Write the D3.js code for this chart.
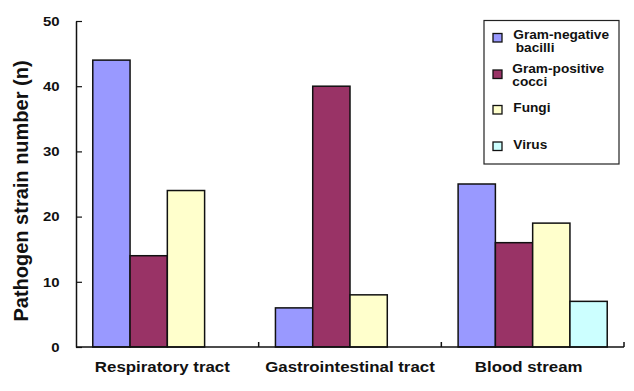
<!DOCTYPE html>
<html>
<head>
<meta charset="utf-8">
<script src="https://cdn.jsdelivr.net/npm/d3@7"></script>
<style>
  html, body { margin: 0; padding: 0; background: #fff; }
  svg { display: block; }
  text { font-family: "Liberation Sans", Arial, sans-serif; font-weight: bold; fill: #111; }
</style>
</head>
<body>
<svg id="chart" width="634" height="391"></svg>
<script>
// ---- data ----
const categories = ["Respiratory tract", "Gastrointestinal tract", "Blood stream"];
const seriesNames = ["Gram-negative bacilli", "Gram-positive cocci", "Fungi", "Virus"];
const legendLines = [["Gram-negative", "bacilli"], ["Gram-positive", "cocci"], ["Fungi"], ["Virus"]];
const gramNegative = [44, 6, 25];
const gramPositive = [14, 40, 16];
const fungi = [24, 8, 19];
const virus = [0, 0, 7];
const yTicks = [0, 10, 20, 30, 40, 50];
const colors = ["#9999FF", "#993366", "#FFFFCC", "#CCFFFF"];
const yTitle = "Pathogen strain number (n)";

const seriesValues = [gramNegative, gramPositive, fungi, virus];

// ---- layout ----
const svg = d3.select("#chart");
const mLeft = 76, mRight = 624, mTop = 21, mBottom = 347;

const x0 = d3.scaleBand().domain(categories).range([mLeft, mRight]).padding(0);
const x1 = d3.scaleBand().domain(seriesNames).range([0, x0.bandwidth()])
  .paddingInner(0).paddingOuter(0.45);
const y = d3.scaleLinear().domain([0, 50]).range([mBottom, mTop]);
const color = d3.scaleOrdinal().domain(seriesNames).range(colors);

function stretchText(sel, x, yy, str, size, sx, anchor) {
  return sel.append("text")
    .attr("transform", `translate(${x},${yy}) scale(${sx},1)`)
    .attr("text-anchor", anchor || "start")
    .style("font-size", size + "px")
    .text(str);
}

// bars
const flat = [];
categories.forEach((c, i) => {
  seriesNames.forEach((s, j) => {
    flat.push({ cat: c, series: s, value: seriesValues[j][i] });
  });
});
svg.append("g").selectAll("rect")
  .data(flat.filter(d => d.value > 0))
  .join("rect")
  .attr("x", d => x0(d.cat) + x1(d.series))
  .attr("y", d => y(d.value))
  .attr("width", x1.bandwidth())
  .attr("height", d => y(0) - y(d.value))
  .attr("fill", d => color(d.series))
  .attr("stroke", "#111")
  .attr("stroke-width", 1.5);

// y axis
const yAxis = d3.axisLeft(y).tickValues(yTicks).tickSizeInner(-6).tickSizeOuter(0).tickFormat("");
const gy = svg.append("g").attr("transform", `translate(${mLeft},0)`).call(yAxis);
gy.select(".domain").attr("stroke", "#111").attr("stroke-width", 1.5);
gy.selectAll(".tick line").attr("stroke", "#111").attr("stroke-width", 1.2);
yTicks.forEach(t => {
  stretchText(svg, 59.5, y(t) + 4.7, String(t), 13, 1.15, "end");
});

// x axis
svg.append("line")
  .attr("x1", mLeft).attr("x2", mRight)
  .attr("y1", y(0)).attr("y2", y(0))
  .attr("stroke", "#111").attr("stroke-width", 1.5);
svg.append("g").selectAll("line")
  .data(categories)
  .join("line")
  .attr("x1", d => x0(d) + x0.bandwidth())
  .attr("x2", d => x0(d) + x0.bandwidth())
  .attr("y1", y(0)).attr("y2", y(0) - 5)
  .attr("stroke", "#111").attr("stroke-width", 1.5);
const labelOffsets = [-5, 0, -4];
categories.forEach((c, i) => {
  stretchText(svg, x0(c) + x0.bandwidth() / 2 + labelOffsets[i], 372, c, 15, 1.125, "middle");
});

// y title
svg.append("text")
  .attr("transform", `translate(28,191) rotate(-90)`)
  .attr("text-anchor", "middle")
  .style("font-size", "20px")
  .text(yTitle);

// legend
const lg = svg.append("g");
lg.append("rect")
  .attr("x", 484).attr("y", 20.5).attr("width", 135).attr("height", 143.5)
  .attr("fill", "#fff").attr("stroke", "#222").attr("stroke-width", 1.2);
const legendSquareY = [33.5, 70, 105.5, 142];
const legendTextY = [[38.5, 52], [72.5, 86], [111.7], [149.3]];
const legendTextX = [[513.3, 515.7], [512.3, 512.3], [513.3], [513.3]];
seriesNames.forEach((s, j) => {
  lg.append("rect")
    .attr("x", 493).attr("y", legendSquareY[j])
    .attr("width", 9).attr("height", 8.5)
    .attr("fill", color(s)).attr("stroke", "#111").attr("stroke-width", 1.3);
  legendLines[j].forEach((ln, k) => {
    stretchText(lg, legendTextX[j][k], legendTextY[j][k], ln, 12, 1.14, "start");
  });
});
</script>
</body>
</html>
